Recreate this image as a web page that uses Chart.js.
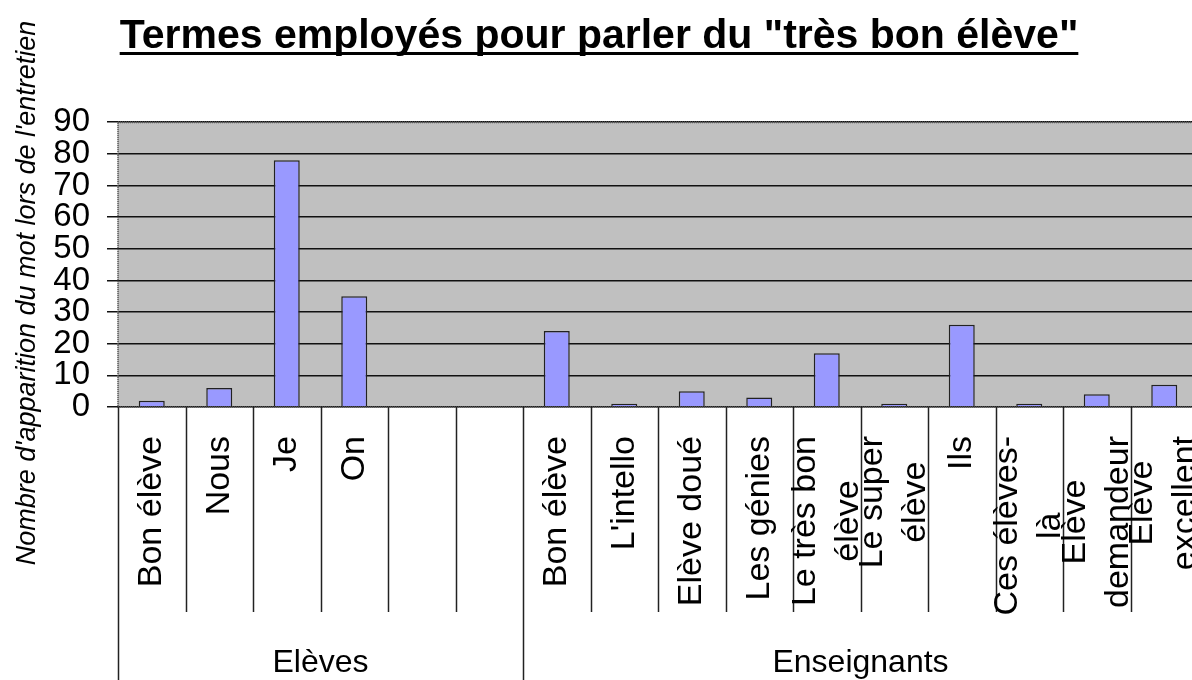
<!DOCTYPE html>
<html>
<head>
<meta charset="utf-8">
<script src="https://cdn.jsdelivr.net/npm/chart.js@4/dist/chart.umd.min.js"></script>
<style>
  html, body { margin: 0; padding: 0; background: #fff; overflow: hidden; }
  #wrap { width: 1200px; height: 680px; }
</style>
</head>
<body>
<div id="wrap"><canvas id="c" width="1200" height="680"></canvas></div>
<script>
const titleText = 'Termes employés pour parler du "très bon élève"';
const yTitle = "Nombre d'apparition du mot lors de l'entretien";
const categories = [
  'Bon élève', 'Nous', 'Je', 'On', '', '',
  'Bon élève', "L'intello", 'Elève doué', 'Les génies', ['Le très bon', 'élève'],
  ['Le super', 'élève'], 'Ils', ['Ces élèves-', 'là'], ['Elève', 'demandeur'], ['Elève', 'excellent']
];
const values = [2, 6, 78, 35, null, null, 24, 1, 5, 3, 17, 1, 26, 1, 4, 7];
const groups = ['Elèves', 'Enseignants'];
const groupSizes = [6, 10];
const yMin = 0, yMax = 90, yStep = 10;

const FONT = "'Liberation Sans', Arial, sans-serif";

const decor = {
  id: 'decor',
  beforeDraw(chart) {
    const { ctx, chartArea: a } = chart;
    ctx.save();
    ctx.fillStyle = '#c0c0c0';
    ctx.fillRect(a.left, a.top, a.right - a.left, a.bottom - a.top);
    ctx.restore();
  },
  afterDraw(chart) {
    const { ctx, chartArea: a } = chart;
    const xs = chart.scales.x;
    ctx.save();
    // plot border (dotted)
    ctx.strokeStyle = '#555';
    ctx.lineWidth = 2;
    ctx.setLineDash([1, 1]);
    ctx.strokeRect(a.left, a.top, a.right - a.left, a.bottom - a.top);
    ctx.setLineDash([]);

    // category separators
    const w = xs.getPixelForValue(1) - xs.getPixelForValue(0);
    const groupStarts = [];
    let acc = 0;
    groupSizes.forEach(s => { groupStarts.push(acc); acc += s; });
    groupStarts.push(acc);
    ctx.strokeStyle = '#222';
    ctx.lineWidth = 1.5;
    for (let i = 0; i <= categories.length; i++) {
      const x = Math.round(xs.getPixelForValue(0) - w / 2 + i * w) + 0.5;
      const isGroup = groupStarts.includes(i);
      ctx.beginPath();
      ctx.moveTo(x, a.bottom);
      ctx.lineTo(x, isGroup ? 680 : 612);
      ctx.stroke();
    }

    // category labels (rotated, lines centred)
    ctx.fillStyle = '#000';
    ctx.font = '34px ' + FONT;
    ctx.textAlign = 'center';
    ctx.textBaseline = 'middle';
    const lineH = 43;
    const topY = 436;
    categories.forEach((lab, i) => {
      const lines = Array.isArray(lab) ? lab : [lab];
      if (!lines.join('')) return;
      const cx = xs.getPixelForValue(i);
      const maxW = Math.max(...lines.map(l => ctx.measureText(l).width));
      ctx.save();
      ctx.translate(cx, topY);
      ctx.rotate(-Math.PI / 2);
      lines.forEach((l, j) => {
        ctx.fillText(l, -maxW / 2, (j - (lines.length - 1) / 2) * lineH);
      });
      ctx.restore();
    });

    // group labels
    ctx.font = '32px ' + FONT;
    ctx.textBaseline = 'alphabetic';
    groups.forEach((g, k) => {
      const s = groupStarts[k], e = groupStarts[k + 1];
      const cx = (xs.getPixelForValue(s) + xs.getPixelForValue(e - 1)) / 2;
      ctx.fillText(g, cx, 672);
    });

    // y axis title
    ctx.font = 'italic 27px ' + FONT;
    ctx.textBaseline = 'middle';
    ctx.save();
    ctx.translate(27, 293);
    ctx.rotate(-Math.PI / 2);
    ctx.fillText(yTitle, 0, 0);
    ctx.restore();

    // title underline
    const tb = chart.titleBlock;
    if (tb) {
      ctx.font = 'bold 41px ' + FONT;
      const tw = ctx.measureText(titleText).width;
      const cx = (tb.left + tb.right) / 2;
      ctx.fillRect(cx - tw / 2, 52, tw, 3);
    }
    ctx.restore();
  }
};

new Chart(document.getElementById('c'), {
  type: 'bar',
  data: {
    labels: categories,
    datasets: [{
      data: values,
      backgroundColor: '#9999ff',
      borderColor: '#222',
      borderWidth: 1.5,
      barPercentage: 0.385,
      categoryPercentage: 1
    }]
  },
  options: {
    responsive: false,
    animation: false,
    layout: { padding: { left: 0, right: 2, top: 0, bottom: 273 } },
    plugins: {
      legend: { display: false },
      tooltip: { enabled: false },
      title: {
        display: true,
        text: titleText,
        color: '#000',
        font: { size: 41, weight: 'bold', family: FONT, lineHeight: 1.2 },
        padding: { top: 12, bottom: 61 }
      }
    },
    scales: {
      x: {
        display: false,
        offset: true
      },
      y: {
        min: yMin, max: yMax,
        afterFit(s) { s.width = 118; },
        ticks: {
          stepSize: yStep,
          autoSkip: false,
          color: '#000',
          padding: 17,
          font: { size: 33, family: FONT }
        },
        grid: {
          color: '#111',
          lineWidth: 1.5,
          tickLength: 11,
          tickColor: '#111',
          drawTicks: true
        },
        border: { display: false }
      }
    }
  },
  plugins: [decor]
});
</script>
</body>
</html>
